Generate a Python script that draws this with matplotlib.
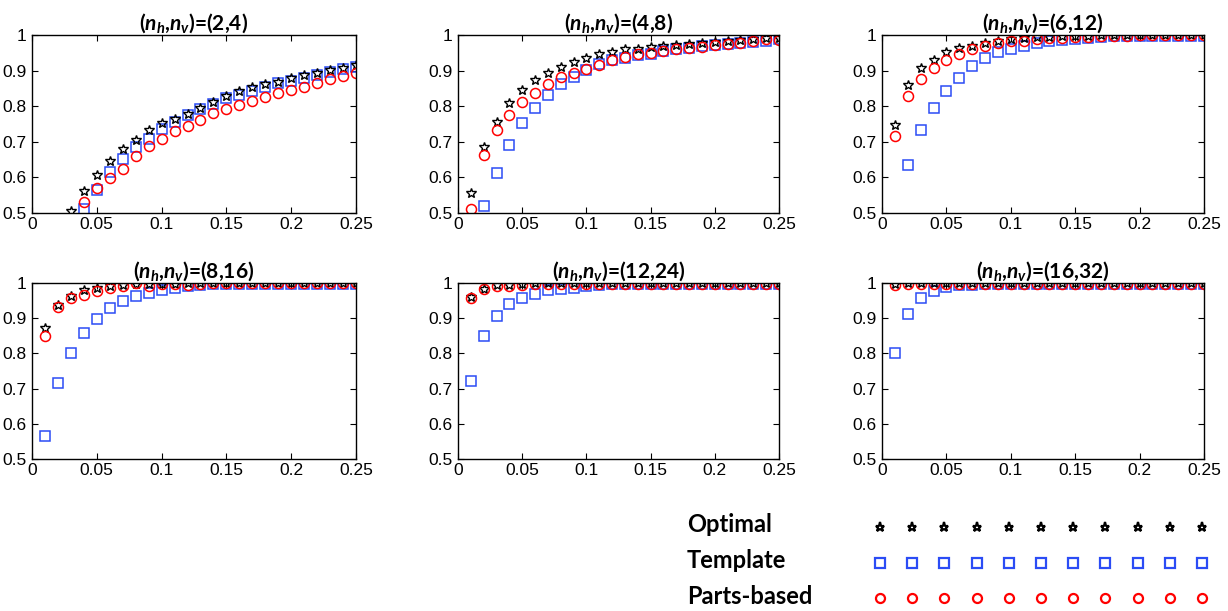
import numpy as np
import matplotlib
matplotlib.use("Agg")
import matplotlib.pyplot as plt

plt.rcParams['font.family'] = ['Liberation Sans', 'DejaVu Sans']
plt.rcParams['mathtext.fontset'] = 'custom'
plt.rcParams['mathtext.rm'] = 'Lato:bold'
plt.rcParams['mathtext.it'] = 'Lato:italic:bold'
plt.rcParams['mathtext.bf'] = 'Lato:bold'

nan = np.nan
x = np.round(np.arange(1, 26) * 0.01, 2)

titles = ['(2,4)', '(4,8)', '(6,12)', '(8,16)', '(12,24)', '(16,32)']

optimal = [
    [nan, nan, 0.507, 0.561, 0.607, 0.647, 0.679, 0.706, 0.732, 0.754, 0.764, 0.778, 0.794,
     0.811, 0.829, 0.843, 0.853, 0.862, 0.868, 0.879, 0.888, 0.894, 0.902, 0.908, 0.915],
    [0.556, 0.685, 0.756, 0.810, 0.845, 0.873, 0.894, 0.910, 0.924, 0.936, 0.946, 0.952, 0.960,
     0.962, 0.966, 0.969, 0.972, 0.976, 0.978, 0.981, 0.983, 0.986, 0.989, 0.991, 0.992],
    [0.747, 0.860, 0.907, 0.930, 0.951, 0.963, 0.970, 0.977, 0.984, 0.989, 0.992, 0.993, 0.995,
     0.996, 0.997, 0.998, 0.999, 0.999, 0.999, 0.999, 0.999, 0.999, 0.999, 0.999, 0.999],
    [0.871, 0.937, 0.963, 0.979, 0.986, 0.991, 0.993, 0.996, 0.997, 0.998, 0.998, 0.999, 0.999,
     0.999, 0.999, 1.0, 1.0, 1.0, 1.0, 1.0, 1.0, 1.0, 1.0, 1.0, 1.0],
    [0.960, 0.984, 0.993, 0.995, 0.998, 0.999, 0.999, 0.999, 0.999, 1.0, 1.0, 1.0, 1.0,
     1.0, 1.0, 1.0, 1.0, 1.0, 1.0, 1.0, 1.0, 1.0, 1.0, 1.0, 1.0],
    [0.998, 0.999, 0.999, 1.0, 1.0, 1.0, 1.0, 1.0, 1.0, 1.0, 1.0, 1.0, 1.0,
     1.0, 1.0, 1.0, 1.0, 1.0, 1.0, 1.0, 1.0, 1.0, 1.0, 1.0, 1.0],
]

template = [
    [nan, nan, nan, 0.511, 0.564, 0.614, 0.652, 0.684, 0.707, 0.736, 0.757, 0.776, 0.793,
     0.807, 0.822, 0.832, 0.844, 0.853, 0.864, 0.872, 0.880, 0.888, 0.897, 0.905, 0.911],
    [nan, 0.519, 0.613, 0.692, 0.753, 0.795, 0.831, 0.861, 0.883, 0.903, 0.919, 0.929, 0.936,
     0.944, 0.948, 0.955, 0.960, 0.964, 0.969, 0.972, 0.976, 0.978, 0.981, 0.983, 0.988],
    [nan, 0.636, 0.733, 0.796, 0.843, 0.879, 0.912, 0.935, 0.953, 0.962, 0.970, 0.977, 0.982,
     0.986, 0.989, 0.992, 0.995, 0.996, 0.996, 0.997, 0.997, 0.998, 0.998, 0.998, 0.998],
    [0.564, 0.715, 0.802, 0.859, 0.899, 0.929, 0.949, 0.962, 0.973, 0.981, 0.987, 0.992, 0.995,
     0.996, 0.996, 0.998, 0.998, 0.998, 0.998, 0.998, 0.998, 0.998, 0.998, 0.998, 0.998],
    [0.722, 0.849, 0.906, 0.939, 0.956, 0.970, 0.979, 0.984, 0.987, 0.991, 0.993, 0.998, 0.998,
     0.998, 0.998, 0.998, 0.998, 0.998, 0.998, 0.998, 0.998, 0.998, 0.998, 0.998, 0.998],
    [0.800, 0.911, 0.958, 0.977, 0.989, 0.993, 0.995, 0.998, 0.998, 0.998, 0.998, 0.998, 0.998,
     0.998, 0.998, 0.998, 0.998, 0.998, 0.998, 0.998, 0.998, 0.998, 0.998, 0.998, 0.998],
]

parts = [
    [nan, nan, nan, 0.531, 0.570, 0.598, 0.624, 0.659, 0.687, 0.707, 0.729, 0.743, 0.762,
     0.780, 0.793, 0.804, 0.816, 0.827, 0.836, 0.846, 0.855, 0.864, 0.877, 0.885, 0.894],
    [0.512, 0.662, 0.733, 0.775, 0.812, 0.838, 0.861, 0.882, 0.894, 0.905, 0.917, 0.930, 0.938,
     0.946, 0.950, 0.955, 0.960, 0.964, 0.967, 0.972, 0.974, 0.978, 0.983, 0.988, 0.986],
    [0.716, 0.829, 0.876, 0.907, 0.930, 0.948, 0.961, 0.970, 0.977, 0.982, 0.984, 0.989, 0.992,
     0.992, 0.993, 0.995, 0.997, 0.998, 0.998, 0.999, 0.999, 0.999, 0.999, 0.999, 0.999],
    [0.849, 0.931, 0.956, 0.967, 0.976, 0.987, 0.991, 1.0, 0.992, 0.998, 0.996, 0.995, 0.998,
     0.999, 0.999, 0.999, 0.999, 0.999, 0.999, 0.999, 0.999, 0.999, 0.999, 0.999, 0.999],
    [0.956, 0.984, 0.992, 0.992, 0.995, 0.996, 0.998, 0.998, 0.998, 0.998, 0.998, 0.998, 0.998,
     0.998, 0.998, 0.998, 0.998, 0.998, 0.998, 0.998, 0.998, 0.998, 0.998, 0.998, 0.998],
    [0.993, 0.998, 0.998, 0.998, 0.998, 0.998, 0.998, 0.998, 0.998, 0.998, 0.998, 0.998, 0.998,
     0.998, 0.998, 0.998, 0.998, 0.998, 0.998, 0.998, 0.998, 0.998, 0.998, 0.998, 0.998],
]

xticks = [0, 0.05, 0.1, 0.15, 0.2, 0.25]
xticklabels = ['0', '0.05', '0.1', '0.15', '0.2', '0.25']
yticks = [0.5, 0.6, 0.7, 0.8, 0.9, 1.0]
yticklabels = ['0.5', '0.6', '0.7', '0.8', '0.9', '1']

legend_labels = ['Optimal', 'Template', 'Parts-based']

BLUE = '#2b4cf5'
RED = '#ff0000'

W, H = 1228, 611
fig = plt.figure(figsize=(W / 100, H / 100), dpi=100)

lefts = [32, 458, 882]
widths = [324, 321, 322]
tops = [35, 283]
heights = [178, 176]

for i in range(6):
    r, c = divmod(i, 3)
    ax = fig.add_axes([lefts[c] / W, 1 - (tops[r] + heights[r]) / H,
                       widths[c] / W, heights[r] / H])
    ax.plot(x, template[i], ls='none', marker='s', ms=7.2, mfc='none', mec=BLUE, mew=1.1)
    ax.plot(x, optimal[i], ls='none', marker='*', ms=7.5, mfc='none', mec='black', mew=1.0)
    ax.plot(x, parts[i], ls='none', marker='o', ms=7.2, mfc='none', mec=RED, mew=1.1)
    ax.set_xlim(0, 0.25)
    ax.set_ylim(0.5, 1.0)
    ax.set_xticks(xticks)
    ax.set_xticklabels(xticklabels)
    ax.set_yticks(yticks)
    ax.set_yticklabels(yticklabels)
    ax.tick_params(direction='in', length=4, width=0.8, top=True, right=True,
                   labelsize=12.5, colors='black')
    ax.tick_params(axis='y', pad=4)
    ax.tick_params(axis='x', pad=3)
    for s in ax.spines.values():
        s.set_linewidth(1.0)
    ax.set_title('($n_h$,$n_v$)=' + titles[i], fontsize=15, fontweight='bold',
                 family=['Lato', 'DejaVu Sans'], pad=4)

# legend block
lax = fig.add_axes([880 / W, 1 - 598 / H, (1202 - 880) / W, (598 - 527) / H])
lax.set_xlim(0, 10)
lax.set_ylim(2, 0)
lax.axis('off')
xs = np.arange(11)
lax.plot(xs, np.zeros(11), ls='none', marker='*', ms=6.5, mfc='none', mec='black',
         mew=1.6, clip_on=False)
lax.plot(xs, np.ones(11), ls='none', marker='s', ms=6.5, mfc='none', mec=BLUE,
         mew=1.6, clip_on=False)
lax.plot(xs, np.full(11, 2), ls='none', marker='o', ms=6.5, mfc='none', mec=RED,
         mew=1.6, clip_on=False)

for k, lab in enumerate(legend_labels):
    yc = [524, 561, 597][k]
    fig.text(687 / W, 1 - yc / H, lab, fontsize=17, fontweight='bold',
             family=['Lato', 'DejaVu Sans'], va='center', ha='left')

fig.savefig('out.png', dpi=100)
